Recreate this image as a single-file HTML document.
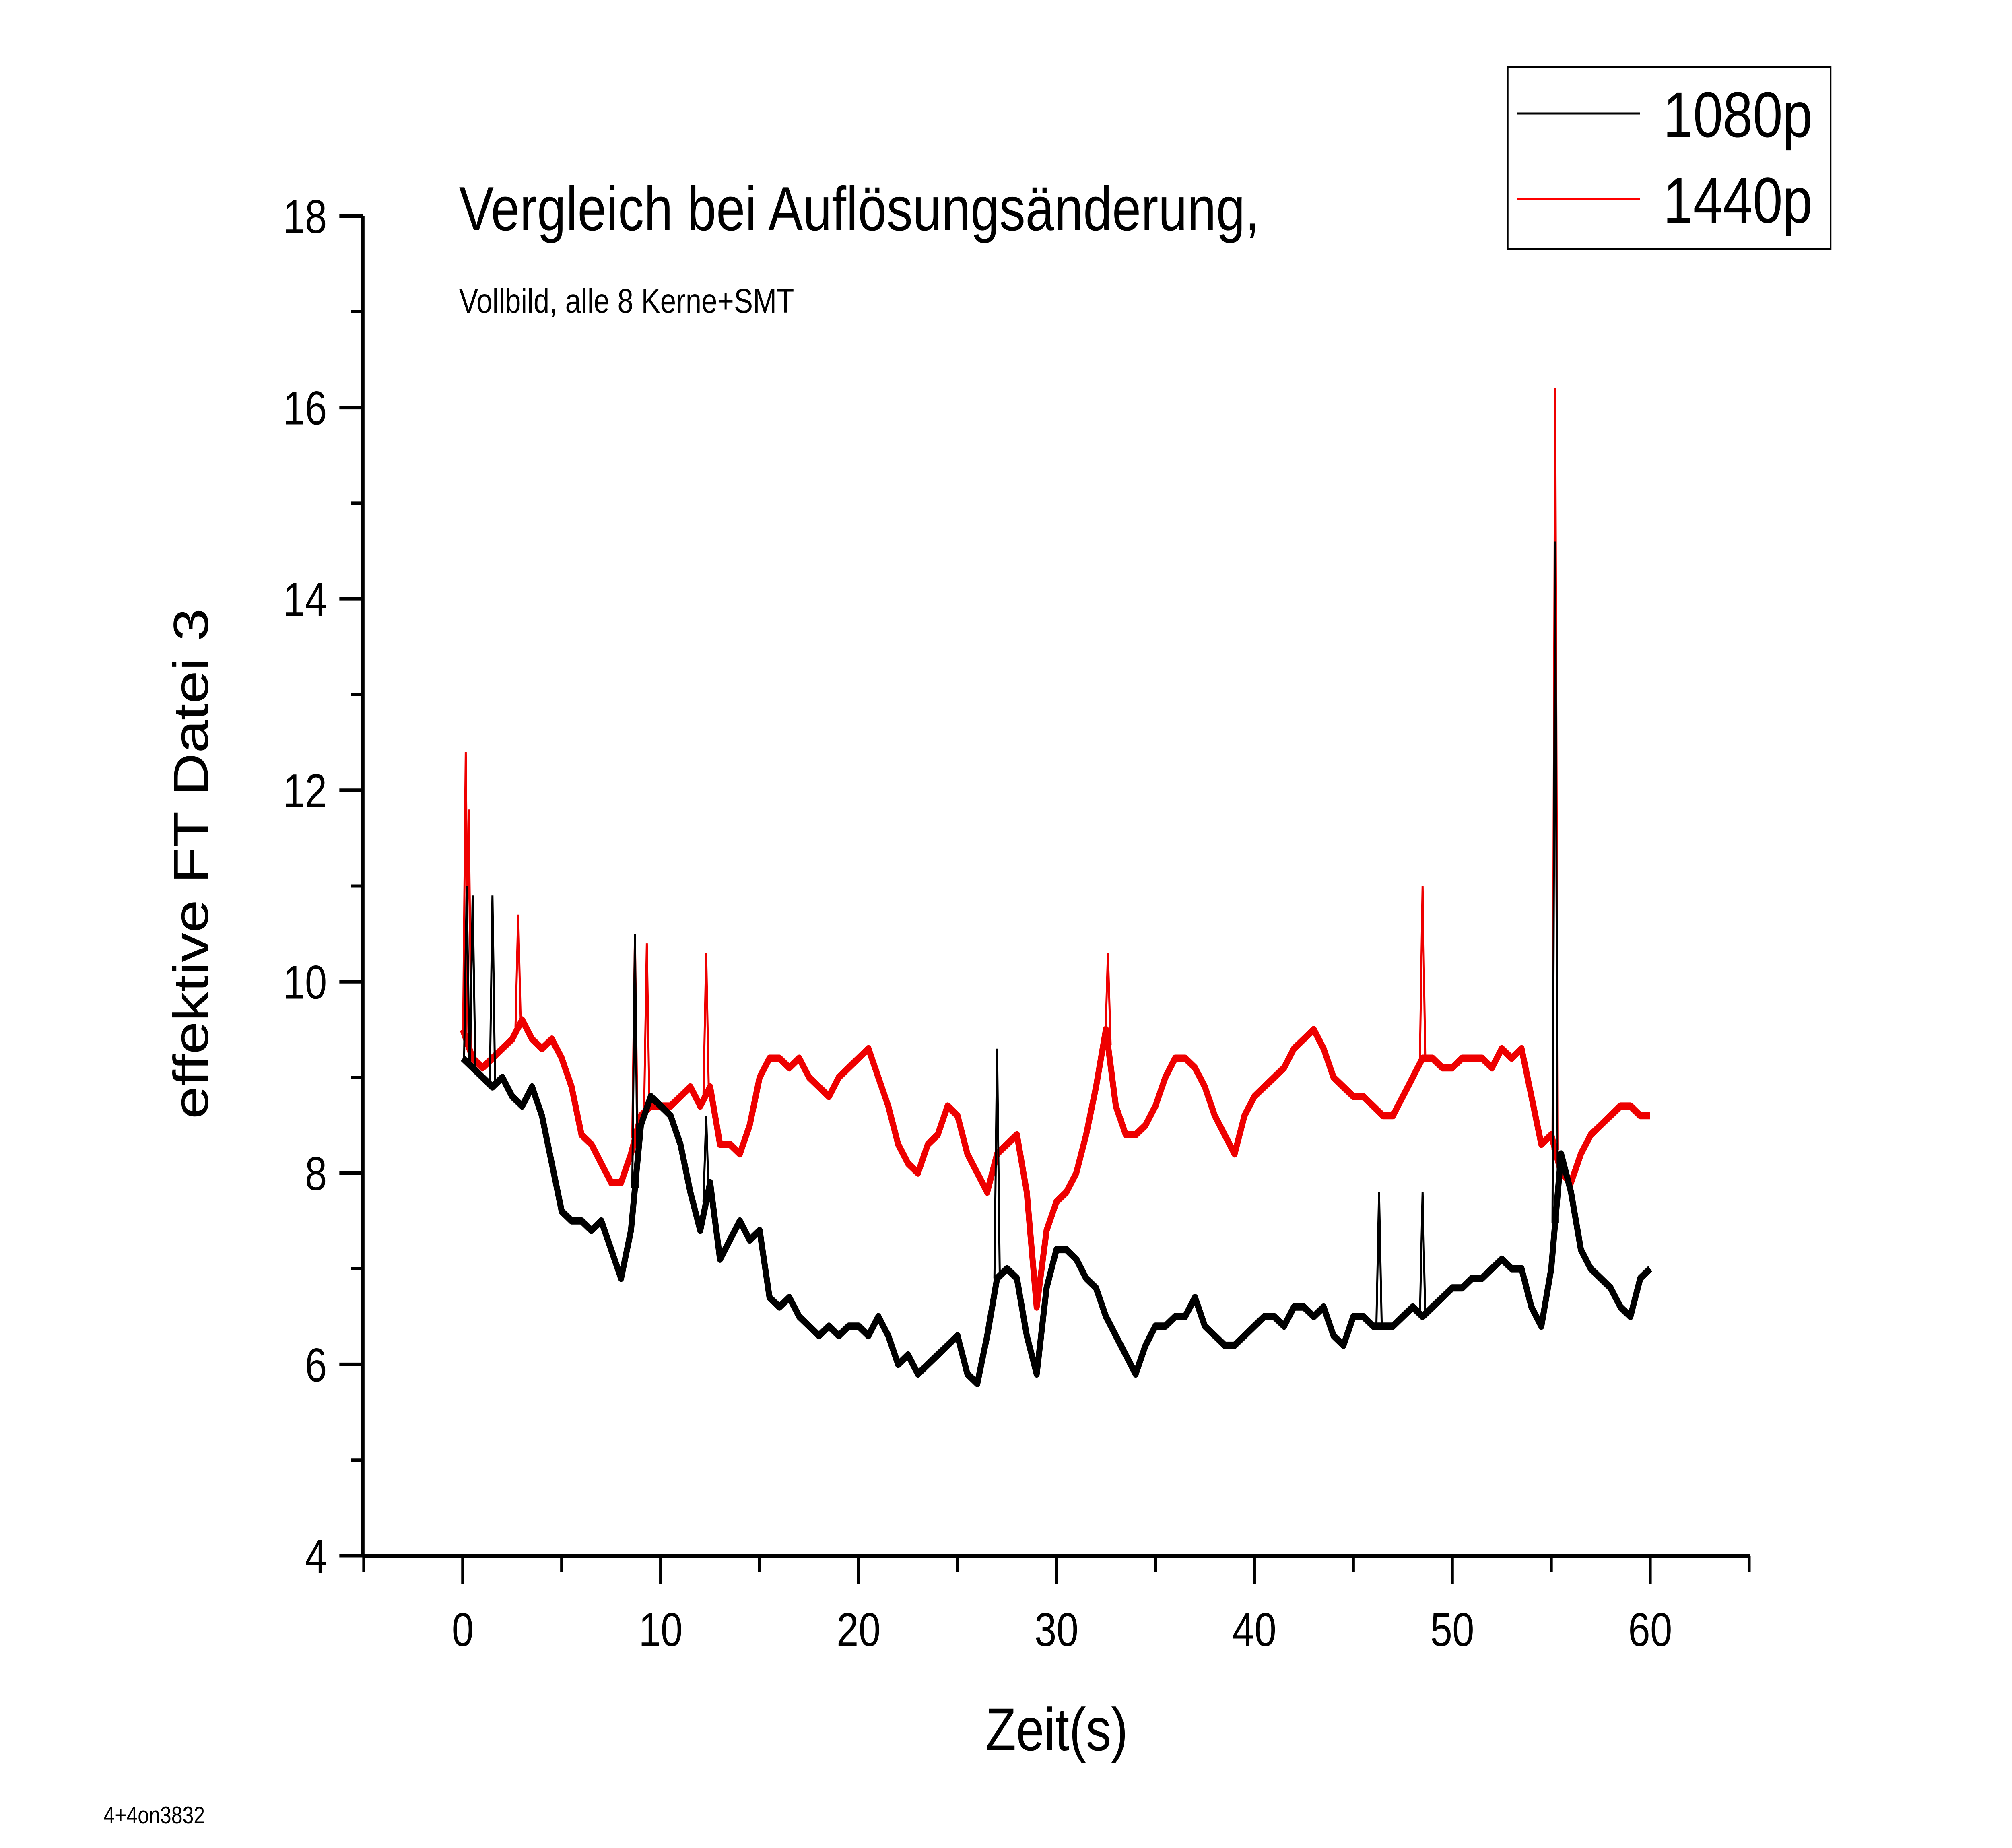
<!DOCTYPE html>
<html><head><meta charset="utf-8"><style>
html,body{margin:0;padding:0;background:#fff;width:100%;height:100%;overflow:hidden;}
svg{display:block;width:100%;height:100%;font-family:"Liberation Sans",Arial,sans-serif;}
</style></head><body>
<svg id="chart" viewBox="0 0 6000 4592" preserveAspectRatio="none">
<text x="1369" y="572" font-size="155">Vergleich bei Auflösungsänderung,</text>
<text x="1369" y="777" font-size="85">Vollbild, alle 8 Kerne+SMT</text>
<text x="309" y="4531" font-size="60">4+4on3832</text>
<text x="3151" y="4349" font-size="150" text-anchor="middle">Zeit(s)</text>
<text transform="translate(620,2146) rotate(-90)" font-size="147" text-anchor="middle">effektive FT Datei 3</text>
<g id="axes"></g>
<g id="series"></g>
<g>
<rect x="4496" y="166" width="963" height="453" fill="#fff" stroke="#000" stroke-width="5"/>
<line x1="4523" y1="282" x2="4890" y2="282" stroke="#000" stroke-width="5"/>
<text x="4960" y="340" font-size="160">1080p</text>
<line x1="4523" y1="495" x2="4890" y2="495" stroke="#f00" stroke-width="5"/>
<text x="4960" y="553" font-size="160">1440p</text>
</g>
</svg>
<script>
const xTicks=[0,10,20,30,40,50,60];
const yTicks=[4,6,8,10,12,14,16,18];
const blackVals=[9.2,9.1,9.0,8.9,9.0,8.8,8.7,8.9,8.6,8.1,7.6,7.5,7.5,7.4,7.5,7.2,6.9,7.4,8.5,8.8,8.7,8.6,8.3,7.8,7.4,7.9,7.1,7.3,7.5,7.3,7.4,6.7,6.6,6.7,6.5,6.4,6.3,6.4,6.3,6.4,6.4,6.3,6.5,6.3,6.0,6.1,5.9,6.0,6.1,6.2,6.3,5.9,5.8,6.3,6.9,7.0,6.9,6.3,5.9,6.8,7.2,7.2,7.1,6.9,6.8,6.5,6.3,6.1,5.9,6.2,6.4,6.4,6.5,6.5,6.7,6.4,6.3,6.2,6.2,6.3,6.4,6.5,6.5,6.4,6.6,6.6,6.5,6.6,6.3,6.2,6.5,6.5,6.4,6.4,6.4,6.5,6.6,6.5,6.6,6.7,6.8,6.8,6.9,6.9,7.0,7.1,7.0,7.0,6.6,6.4,7.0,8.2,7.8,7.2,7.0,6.9,6.8,6.6,6.5,6.9,7.0];
const redVals=[9.5,9.2,9.1,9.2,9.3,9.4,9.6,9.4,9.3,9.4,9.2,8.9,8.4,8.3,8.1,7.9,7.9,8.2,8.6,8.7,8.7,8.7,8.8,8.9,8.7,8.9,8.3,8.3,8.2,8.5,9.0,9.2,9.2,9.1,9.2,9.0,8.9,8.8,9.0,9.1,9.2,9.3,9.0,8.7,8.3,8.1,8.0,8.3,8.4,8.7,8.6,8.2,8.0,7.8,8.2,8.3,8.4,7.8,6.6,7.4,7.7,7.8,8.0,8.4,8.9,9.5,8.7,8.4,8.4,8.5,8.7,9.0,9.2,9.2,9.1,8.9,8.6,8.4,8.2,8.6,8.8,8.9,9.0,9.1,9.3,9.4,9.5,9.3,9.0,8.9,8.8,8.8,8.7,8.6,8.6,8.8,9.0,9.2,9.2,9.1,9.1,9.2,9.2,9.2,9.1,9.3,9.2,9.3,8.8,8.3,8.4,8.0,7.9,8.2,8.4,8.5,8.6,8.7,8.7,8.6,8.6];
const blackSpikeT=[0.2,0.5,1.5,8.7,12.3,27.0,46.3,48.5,55.2];
const blackSpikeV=[11.0,10.9,10.9,10.5,8.6,9.3,7.8,7.8,14.6];
const redSpikeT=[0.15,0.3,2.8,8.7,9.3,12.3,32.6,48.5,55.2];
const redSpikeV=[12.4,11.8,10.7,10.5,10.4,10.3,10.3,11.0,16.2];
const tStep=0.5;

const NS="http://www.w3.org/2000/svg";
const X0=1380,X60=4921,YB=3866,YT=537;
const xs=t=>X0+(X60-X0)*t/60;
const ys=v=>YB-(YB-YT)*(v-4)/14;
function mk(tag,attrs,parent){const e=document.createElementNS(NS,tag);for(const k in attrs)e.setAttribute(k,attrs[k]);parent.appendChild(e);return e;}
const axes=document.getElementById('axes');
let e=mk('line',{x1:1082,y1:YT,x2:1082,y2:YB,stroke:'#000','stroke-width':10},axes);


e=mk('line',{x1:1082,y1:YB,x2:5219,y2:YB,stroke:'#000','stroke-width':10},axes);


yTicks.forEach(v=>{
  const t=mk('line',{x1:1012,y1:ys(v),x2:1082,y2:ys(v),stroke:'#000','stroke-width':9},axes);
  
  
  const l=mk('text',{x:975,y:ys(v)+42,'font-size':118,'text-anchor':'end'},axes);
  l.textContent=v;
  
  
  if(v<18){const m=mk('line',{x1:1047,y1:ys(v+1),x2:1082,y2:ys(v+1),stroke:'#000','stroke-width':8},axes);
  
  }
});
for(let t=-5;t<=65;t+=5){
  const major=(t%10===0);
  const k=mk('line',{x1:xs(t),y1:YB,x2:xs(t),y2:YB+(major?70:40),stroke:'#000','stroke-width':9},axes);
  
  
}
xTicks.forEach(t=>{
  const l=mk('text',{x:xs(t),y:4090,'font-size':118,'text-anchor':'middle'},axes);
  l.textContent=t;
  
  
});
const series=document.getElementById('series');
function interp(vals,t){const i=Math.min(vals.length-2,Math.floor(t/tStep));const f=t/tStep-i;return vals[i]*(1-f)+vals[i+1]*f;}
function draw(vals,spT,spV,color,name){
  let d='';vals.forEach((v,i)=>{d+=(i?'L':'M')+xs(i*tStep).toFixed(1)+' '+ys(v).toFixed(1);});
  const p=mk('path',{d:d,fill:'none',stroke:color,'stroke-width':18,'stroke-linejoin':'round'},series);
  
  
  spT.forEach((t,i)=>{
    const b=interp(vals,t);
    const s=mk('path',{d:'M'+(xs(t)-8)+' '+ys(b)+'L'+xs(t)+' '+ys(spV[i])+'L'+(xs(t)+8)+' '+ys(b),fill:'none',stroke:color,'stroke-width':6},series);
    
    
  });
}
draw(redVals,redSpikeT,redSpikeV,'#ee0000','series-1440p');
draw(blackVals,blackSpikeT,blackSpikeV,'#000','series-1080p');
</script>
</body></html>
